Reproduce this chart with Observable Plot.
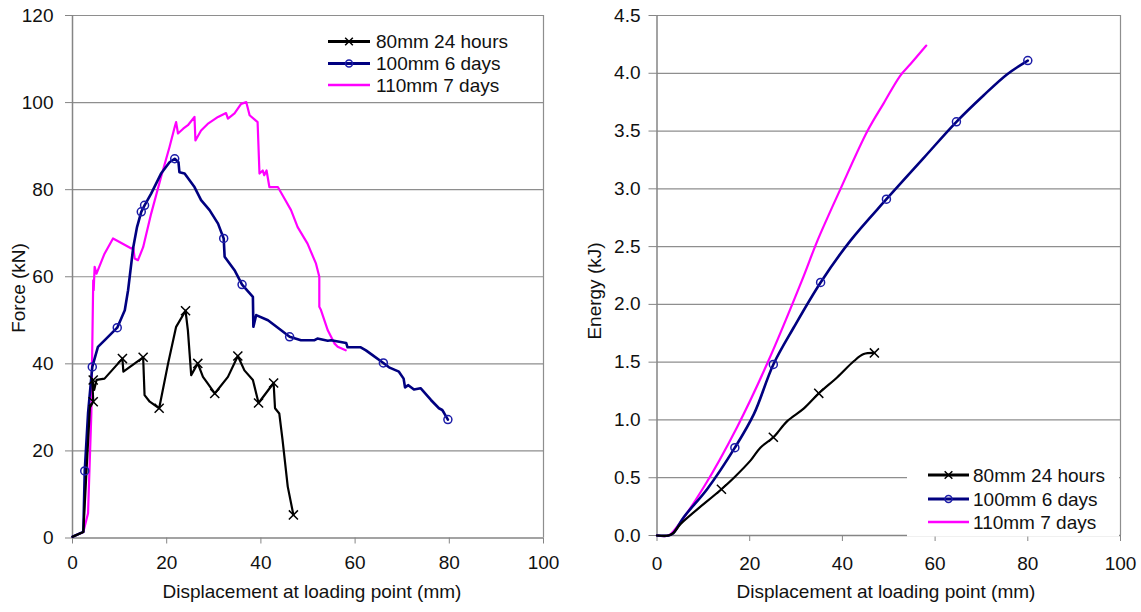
<!DOCTYPE html>
<html>
<head>
<meta charset="utf-8">
<script src="https://cdn.jsdelivr.net/npm/d3@7"></script>
<script src="https://cdn.jsdelivr.net/npm/@observablehq/plot@0.6"></script>
<style>
  html, body { margin: 0; padding: 0; background: #fff; }
  #wrap { position: relative; width: 1141px; height: 612px; overflow: hidden; font-family: "Liberation Sans", Arial, sans-serif; }
  #left, #right, #overlay { position: absolute; top: 0; }
  #left { left: 0; }
  #right { left: 570px; }
  #overlay { left: 0; pointer-events: none; }
</style>
</head>
<body>
<div id="wrap">
  <div id="left"></div>
  <div id="right"></div>
  <svg id="overlay" width="1141" height="612"></svg>
</div>
<script>
// ---------- data ----------
const seriesNames = ["80mm 24 hours", "100mm 6 days", "110mm 7 days"];
const seriesColors = ["#000000", "#000080", "#ff00ff"];
const markerColors = ["#000000", "#1c1ca8", "#ff00ff"];

const xTicks = [0, 20, 40, 60, 80, 100];
const forceTicks = [0, 20, 40, 60, 80, 100, 120];
const energyTicks = [0, 0.5, 1.0, 1.5, 2.0, 2.5, 3.0, 3.5, 4.0, 4.5];

// Force (kN) vs displacement (mm)
const force80 = [[0,0.3],[2.3,1.4],[3.0,16],[3.7,30],[4.4,31.3],[4.2,36.5],[4.6,34],[5.1,36.3],[6.8,36.6],[10.6,41.2],[10.8,38.2],[15.0,41.5],[15.3,32.8],[16.4,31.3],[18.4,29.8],[20.3,40.1],[22.0,48.5],[24.0,52.2],[24.5,47.7],[25.2,37.4],[26.6,40.1],[27.7,37.0],[28.7,35.5],[30.2,33.2],[33.0,37.0],[35.1,41.8],[36.5,38.5],[38.3,36.3],[39.5,31.0],[42.7,35.6],[43.0,29.8],[43.9,28.6],[44.6,22.5],[45.7,11.8],[46.9,5.3]];
const force80Markers = [[4.4,31.3],[4.4,36.3],[10.6,41.2],[15.0,41.5],[18.4,29.8],[24.0,52.2],[26.6,40.1],[30.2,33.2],[35.1,41.8],[39.5,31.0],[42.7,35.6],[46.9,5.3]];

const force100 = [[0,0.3],[2.3,1.4],[2.6,15.4],[3.3,28.6],[4.2,39.3],[5.4,43.9],[6.8,45.4],[9.5,48.3],[11.1,52.3],[11.8,56.9],[12.9,66.8],[13.7,71.4],[14.6,74.9],[15.3,76.4],[16.7,79.1],[18.8,83.7],[20.6,86.3],[21.7,87.1],[22.5,86.3],[22.7,84.0],[23.8,83.7],[25.9,80.6],[27.3,77.6],[29.1,75.3],[30.9,72.2],[32.1,68.8],[32.3,64.6],[34.4,61.5],[36.0,58.2],[38.3,55.4],[38.4,48.5],[39.0,51.2],[41.5,50.0],[44.3,47.7],[46.1,46.2],[48.5,45.4],[51.3,45.4],[52.0,45.8],[54.2,45.3],[54.9,45.4],[58.1,44.8],[58.4,43.8],[61.2,43.8],[62.3,43.1],[63.7,42.0],[66.0,40.2],[67.2,39.2],[69.3,38.2],[70.3,36.6],[70.6,34.6],[71.3,35.1],[72.5,34.1],[73.9,34.4],[76.1,31.7],[77.8,29.8],[78.5,29.4],[78.9,28.7],[79.7,27.2]];
const force100Markers = [[2.6,15.4],[4.2,39.3],[9.5,48.3],[14.6,74.9],[15.3,76.4],[21.7,87.1],[32.1,68.8],[36.0,58.2],[46.1,46.2],[66.0,40.2],[79.7,27.2]];

const force110 = [[0,0.3],[2.3,1.4],[3.3,5.7],[4.0,28.6],[4.4,59.2],[4.5,56.9],[4.7,62.3],[5.1,60.7],[6.8,65.3],[8.6,68.8],[9.3,68.4],[12.5,66.5],[12.9,66.8],[13.2,64.2],[13.9,63.8],[15.0,66.8],[16.7,74.5],[18.8,82.9],[20.6,89.8],[21.7,94.4],[22.0,95.5],[22.4,92.9],[23.5,94.0],[24.5,94.8],[25.9,96.7],[26.1,91.3],[27.3,93.6],[28.7,95.1],[30.9,96.7],[32.6,97.6],[33.0,96.3],[34.4,97.5],[35.8,99.7],[36.9,100.1],[37.6,97.1],[39.3,95.5],[39.7,83.7],[40.4,84.4],[40.7,83.3],[41.2,84.4],[41.8,80.6],[43.6,80.6],[44.6,78.7],[46.4,75.3],[47.8,71.4],[49.9,67.6],[51.7,63.0],[52.4,60.0],[52.4,53.1],[52.7,52.5],[54.2,47.7],[55.6,44.7],[56.3,43.9],[58.0,43.1]];

// Energy (kJ) vs displacement (mm)
const energy80 = [[0,0],[2.5,0],[3.5,0.02],[5.1,0.10],[13.9,0.40],[16.6,0.50],[20.2,0.65],[22.3,0.76],[25.1,0.85],[28.1,0.99],[31.7,1.10],[34.9,1.23],[38.9,1.37],[42.5,1.51],[44.6,1.57],[46.9,1.58]];
const energy80Markers = [[13.9,0.40],[25.1,0.85],[34.9,1.23],[46.9,1.58]];

const energy100 = [[0,0],[2.5,0],[3.5,0.02],[5.8,0.16],[10.8,0.40],[16.8,0.76],[20.9,1.05],[25.1,1.48],[29.5,1.80],[35.3,2.19],[41.7,2.55],[49.5,2.91],[57.6,3.27],[64.6,3.58],[70.5,3.81],[75.5,3.99],[80.0,4.11]];
const energy100Markers = [[16.8,0.76],[25.1,1.48],[35.3,2.19],[49.5,2.91],[64.6,3.58],[80.0,4.11]];

const energy110 = [[0,0],[2.5,0],[3.6,0.04],[10.1,0.42],[17.3,0.94],[23.8,1.49],[31.3,2.21],[34.6,2.55],[39.6,3.00],[45.4,3.50],[48.9,3.74],[52.5,3.98],[54.7,4.08],[58.1,4.24]];

// ---------- styles ----------
const FONT = "Liberation Sans";
const FS = 19;
const axisGray = "#858585";
const gridGray = "#8e8e8e";
const textCol = "#111";

function chart({yDomain, yTicks, yFormat, lines, markers, width, mL, mR, mB, xPad, yTick, yPad, curve}) {
  return Plot.plot({
    width, height: 612,
    marginLeft: mL, marginRight: mR, marginTop: 15, marginBottom: mB,
    style: {fontFamily: FONT, fontSize: FS + "px", color: textCol, background: "transparent", overflow: "visible"},
    x: {domain: [0, 100], label: null},
    y: {domain: yDomain, label: null},
    marks: [
      Plot.gridY(yTicks.filter(d => d > 0), {stroke: gridGray, strokeOpacity: 1, strokeWidth: 1.2}),
      Plot.ruleX([100], {stroke: gridGray, strokeWidth: 1.2}),
      Plot.axisY({ticks: yTicks, tickSize: yTick, tickPadding: yPad, tickFormat: yFormat, stroke: axisGray, fill: textCol}),
      Plot.axisX({ticks: xTicks, tickSize: 6, tickPadding: xPad, tickFormat: d => d, stroke: axisGray, fill: textCol}),
      Plot.ruleX([0], {stroke: axisGray, strokeWidth: 1.5}),
      Plot.ruleY([yDomain[0]], {stroke: axisGray, strokeWidth: 1.5}),
      ...lines.map(([data, i, w]) => Plot.line(data, {x: d => d[0], y: d => d[1], stroke: seriesColors[i], strokeWidth: w, curve})),
      ...markers.map(([data, i]) => Plot.dot(data, {
        x: d => d[0], y: d => d[1],
        symbol: i === 0 ? "times" : "circle",
        r: i === 0 ? 4.2 : 4,
        stroke: markerColors[i], strokeWidth: 1.5, fill: "none"
      }))
    ]
  });
}

const left = chart({
  yDomain: [0, 120], yTicks: forceTicks, yFormat: d => d,
  lines: [[force110, 2, 2.2], [force100, 1, 2.6], [force80, 0, 2.2]],
  markers: [[force100Markers, 1], [force80Markers, 0]],
  width: 570, mL: 72, mR: 27, mB: 74.5, xPad: 11, yTick: 7, yPad: 12, curve: "linear"
});
document.getElementById("left").appendChild(left);

const right = chart({
  yDomain: [0, 4.5], yTicks: energyTicks, yFormat: d3.format(".1f"),
  lines: [[energy110, 2, 2.2], [energy100, 1, 2.6], [energy80, 0, 2.2]],
  markers: [[energy100Markers, 1], [energy80Markers, 0]],
  width: 571, mL: 86.5, mR: 21, mB: 77, xPad: 15, yTick: 8, yPad: 8.5, curve: "catmull-rom"
});
document.getElementById("right").appendChild(right);

// ---------- titles and legends ----------
const ov = d3.select("#overlay");
function txt(x, y, s, opts = {}) {
  const t = ov.append("text").attr("x", x).attr("y", y).text(s)
    .attr("font-family", FONT).attr("font-size", FS).attr("fill", textCol);
  if (opts.anchor) t.attr("text-anchor", opts.anchor);
  if (opts.rotate) t.attr("transform", `rotate(-90 ${x} ${y})`);
  if (opts.baseline) t.attr("dominant-baseline", opts.baseline);
  return t;
}
txt(312, 598, "Displacement at loading point (mm)", {anchor: "middle"});
txt(886, 598, "Displacement at loading point (mm)", {anchor: "middle"});
txt(25, 288, "Force (kN)", {anchor: "middle", rotate: true});
txt(601, 291, "Energy (kJ)", {anchor: "middle", rotate: true});

// white legend box on the energy chart
ov.append("rect").attr("x", 907).attr("y", 458).attr("width", 212).attr("height", 78.5).attr("fill", "#fff");

function legend(x0, x1, tx, rows) {
  seriesNames.forEach((name, i) => {
    const y = rows[i];
    ov.append("line").attr("x1", x0).attr("x2", x1).attr("y1", y).attr("y2", y)
      .attr("stroke", seriesColors[i]).attr("stroke-width", i === 2 ? 2.4 : 3);
    const cx = (x0 + x1) / 2;
    if (i === 0) {
      ov.append("path").attr("d", d3.symbol(d3.symbolTimes, 40)()).attr("transform", `translate(${cx},${y})`)
        .attr("stroke", markerColors[0]).attr("stroke-width", 1.5).attr("fill", "none");
    } else if (i === 1) {
      ov.append("circle").attr("cx", cx).attr("cy", y).attr("r", 3.5)
        .attr("stroke", markerColors[1]).attr("stroke-width", 1.5).attr("fill", "none");
    }
    txt(tx, y, name, {baseline: "central"});
  });
}
legend(328, 370, 376, [41.5, 63.5, 85]);
legend(928, 969, 973, [475, 499, 522]);
</script>
</body>
</html>
